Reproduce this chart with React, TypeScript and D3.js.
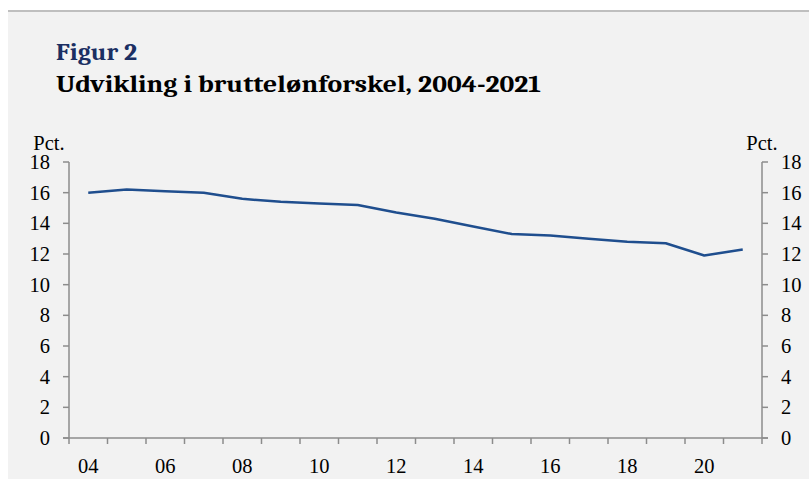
import React from "react";
import * as d3 from "d3";

const years = [2004, 2005, 2006, 2007, 2008, 2009, 2010, 2011, 2012, 2013, 2014, 2015, 2016, 2017, 2018, 2019, 2020, 2021];
const values = [16.0, 16.2, 16.1, 16.0, 15.6, 15.4, 15.3, 15.2, 14.7, 14.3, 13.8, 13.3, 13.2, 13.0, 12.8, 12.7, 11.9, 12.3];
const yTicks = [0, 2, 4, 6, 8, 10, 12, 14, 16, 18];
const xLabelYears = [2004, 2006, 2008, 2010, 2012, 2014, 2016, 2018, 2020];

const W = 809;
const H = 479;
const left = 69;
const right = 762;
const top = 162;
const bottom = 438;
const serif = "Cambria, Caladea, 'Liberation Serif', 'DejaVu Serif', serif";
const tickSerif = "'Liberation Serif', 'Times New Roman', serif";

export default function App() {
  const x = d3.scaleBand<number>().domain(years).range([left, right]);
  const y = d3.scaleLinear().domain([0, 18]).range([bottom, top]);
  const line = d3
    .line<number>()
    .x((_, i) => (x(years[i]) as number) + x.bandwidth() / 2)
    .y((d) => y(d));
  const boundaries = d3.range(years.length + 1).map((i) => left + i * x.bandwidth());
  const axisColor = "#8c8c8c";
  const tickFont = 20.5;

  return (
    <svg width={W} height={H} style={{ position: "absolute", left: 0, top: 0 }}>
      <rect x={8} y={11} width={W - 8} height={H - 11} fill="#f2f2f2" />
      <line x1={8} x2={W} y1={11} y2={11} stroke="#bfbfbf" strokeWidth={2} />
      <text x={56} y={60} fontFamily={serif} fontWeight="bold" fontSize={25} fill="#1b2f63" textLength={81} lengthAdjust="spacingAndGlyphs">
        Figur 2
      </text>
      <text x={56} y={92} fontFamily={serif} fontWeight="bold" fontSize={25} fill="#000" textLength={485} lengthAdjust="spacingAndGlyphs">
        Udvikling i bruttelønforskel, 2004-2021
      </text>

      {/* left axis */}
      <line x1={left} x2={left} y1={top} y2={bottom} stroke={axisColor} strokeWidth={1.5} />
      {yTicks.map((t) => (
        <g key={"l" + t}>
          <line x1={left - 6} x2={left} y1={y(t)} y2={y(t)} stroke={axisColor} strokeWidth={1.5} />
          <text x={50} y={y(t) + 7} textAnchor="end" fontFamily={tickSerif} fontSize={tickFont} fill="#000">
            {t}
          </text>
        </g>
      ))}
      <text x={49} y={150} textAnchor="middle" fontFamily={tickSerif} fontSize={tickFont} fill="#000">
        Pct.
      </text>

      {/* right axis */}
      <line x1={right} x2={right} y1={top} y2={bottom} stroke={axisColor} strokeWidth={1.5} />
      {yTicks.map((t) => (
        <g key={"r" + t}>
          <line x1={right} x2={right + 6} y1={y(t)} y2={y(t)} stroke={axisColor} strokeWidth={1.5} />
          <text x={781} y={y(t) + 7} textAnchor="start" fontFamily={tickSerif} fontSize={tickFont} fill="#000">
            {t}
          </text>
        </g>
      ))}
      <text x={762} y={150} textAnchor="middle" fontFamily={tickSerif} fontSize={tickFont} fill="#000">
        Pct.
      </text>

      {/* x axis */}
      <line x1={left - 6} x2={right + 6} y1={bottom} y2={bottom} stroke={axisColor} strokeWidth={1.5} />
      {boundaries.map((bx, i) => (
        <line key={"xt" + i} x1={bx} x2={bx} y1={bottom} y2={bottom + 6} stroke={axisColor} strokeWidth={1.5} />
      ))}
      {xLabelYears.map((yr) => (
        <text
          key={"xl" + yr}
          x={(x(yr) as number) + x.bandwidth() / 2}
          y={473}
          textAnchor="middle"
          fontFamily={tickSerif}
          fontSize={tickFont}
          fill="#000"
        >
          {String(yr).slice(2)}
        </text>
      ))}

      <path d={line(values) || ""} fill="none" stroke="#1f4e8e" strokeWidth={2.5} strokeLinejoin="round" />
    </svg>
  );
}
